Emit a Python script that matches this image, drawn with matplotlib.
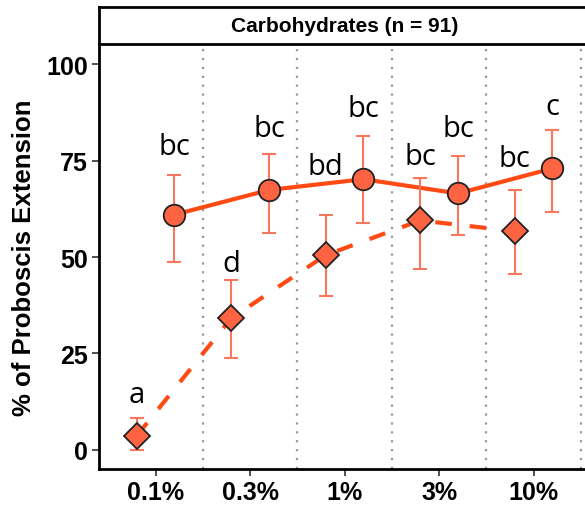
import numpy as np
import matplotlib
matplotlib.use("Agg")
import matplotlib.pyplot as plt

# concentrations on the x axis
conc = ["0.1%", "0.3%", "1%", "3%", "10%"]

# circles, solid line
circ_mean = [61, 67.4, 70.2, 66.5, 73.0]
circ_lo = [48.8, 56.3, 58.9, 55.6, 61.8]
circ_hi = [71.2, 76.8, 81.5, 76.3, 83.0]
circ_letters = ["bc", "bc", "bc", "bc", "c"]
circ_letter_y = [76.7, 81.4, 86.6, 81.4, 87.1]

# diamonds, dashed line
diam_mean = [3.6, 34.1, 50.5, 59.5, 56.7]
diam_lo = [0.0, 23.8, 39.8, 47.0, 45.7]
diam_hi = [8.3, 44.0, 61.0, 70.5, 67.4]
diam_letters = ["a", "d", "bd", "bc", "bc"]
diam_letter_y = [12.4, 46.3, 71.6, 74.2, 73.6]

line_col = "#FF4A14"
fill_col = "#FF6442"
err_col = "#F7785C"

fig = plt.figure(figsize=(5.85, 5.06), dpi=100)
ax = fig.add_axes([0.169, 0.071, 0.84, 0.838])

x = np.arange(1, len(conc) + 1)
for xv in x + 0.5:
    ax.axvline(xv, color="#999999", ls=(0, (1, 3)), lw=1.6, zorder=0)

# dashed series
xd = x - 0.2
ax.plot(xd, diam_mean, color=line_col, lw=3, ls=(0, (4, 4.3)), zorder=2)
ax.errorbar(xd, diam_mean,
            yerr=[np.subtract(diam_mean, diam_lo), np.subtract(diam_hi, diam_mean)],
            fmt="none", ecolor=err_col, elinewidth=1.5, capsize=5, capthick=1.5, zorder=3)
ax.plot(xd, diam_mean, ls="none", marker="D", ms=13, mfc=fill_col,
        mec="#222222", mew=1.3, zorder=4)

# solid series
xc = x + 0.2
ax.plot(xc, circ_mean, color=line_col, lw=3, zorder=2)
ax.errorbar(xc, circ_mean,
            yerr=[np.subtract(circ_mean, circ_lo), np.subtract(circ_hi, circ_mean)],
            fmt="none", ecolor=err_col, elinewidth=1.5, capsize=5, capthick=1.5, zorder=3)
ax.plot(xc, circ_mean, ls="none", marker="o", ms=15.5, mfc=fill_col,
        mec="#222222", mew=1.3, zorder=4)

for xi, yi, t in zip(xc, circ_letter_y, circ_letters):
    ax.text(xi, yi, t, ha="center", va="baseline", fontsize=21, family="Open Sans")
for xi, yi, t in zip(xd, diam_letter_y, diam_letters):
    ax.text(xi, yi, t, ha="center", va="baseline", fontsize=21, family="Open Sans")

ax.set_xlim(0.4, 5.6)
ax.set_ylim(-5, 105)
ax.set_xticks(x)
ax.set_xticklabels(conc)
ax.set_yticks([0, 25, 50, 75, 100])
ax.tick_params(length=5, width=1.2, color="#333333", labelsize=18, pad=3)
for lab in ax.get_xticklabels() + ax.get_yticklabels():
    lab.set_fontweight("bold")
    lab.set_family("Liberation Sans")
ax.set_ylabel("% of Proboscis Extension", fontsize=18.5, fontweight="bold",
              family="Liberation Sans", labelpad=7)
for s in ["top", "right"]:
    ax.spines[s].set_visible(False)
for s in ["left", "bottom"]:
    ax.spines[s].set_linewidth(2)

# facet strip
sx = fig.add_axes([0.169, 0.911, 0.84, 0.073])
sx.set_xticks([])
sx.set_yticks([])
for s in sx.spines.values():
    s.set_linewidth(2)
sx.text(0.5, 0.5, "Carbohydrates (n = 91)", ha="center", va="center",
        fontsize=15, fontweight="bold", family="Liberation Sans",
        transform=sx.transAxes)

fig.savefig("out.png", dpi=100)
